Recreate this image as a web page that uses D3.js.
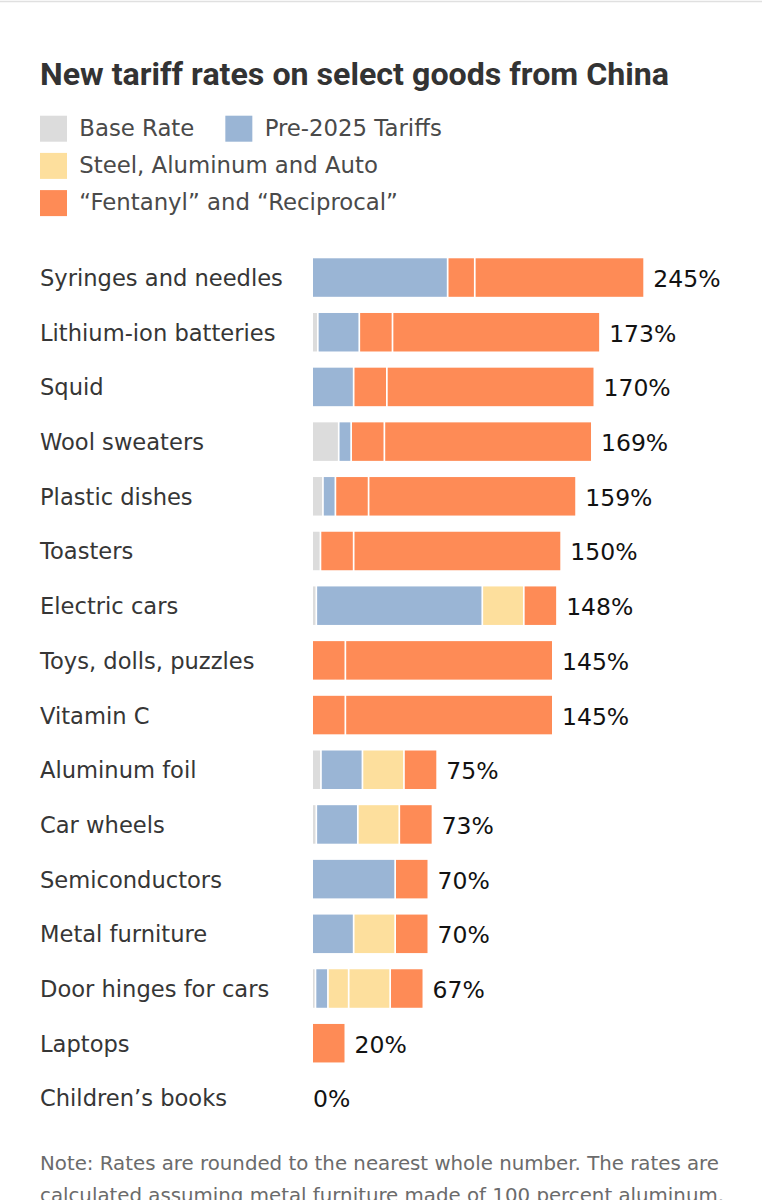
<!DOCTYPE html>
<html>
<head>
<meta charset="utf-8">
<script src="https://cdn.jsdelivr.net/npm/d3@7"></script>
<style>
    body { margin: 0; background: #fff; }
    svg { display: block; }
</style>
</head>
<body>
<div id="chart"></div>
<script>
// 資料
const categories = ['Syringes and needles', 'Lithium-ion batteries', 'Squid', 'Wool sweaters',
    'Plastic dishes', 'Toasters', 'Electric cars', 'Toys, dolls, puzzles', 'Vitamin C',
    'Aluminum foil', 'Car wheels', 'Semiconductors', 'Metal furniture', 'Door hinges for cars',
    'Laptops', 'Children\u2019s books']
const totals      = [245, 173, 170, 169, 159, 150, 148, 145, 145, 75, 73, 70, 70, 67, 20, 0]
const baseRate    = [0, 3.4, 0, 16, 6.5, 5, 2.5, 0, 0, 5.3, 2.5, 0, 0, 2, 0, 0]
const pre2025     = [100, 25, 25, 7.5, 7.5, 0, 100, 0, 0, 25, 25, 50, 25, 7.5, 0, 0]
const steelAlum   = [0, 0, 0, 0, 0, 0, 0, 0, 0, 25, 0, 0, 25, 12.5, 0, 0]
const autoParts   = [0, 0, 0, 0, 0, 0, 25, 0, 0, 0, 25, 0, 0, 25, 0, 0]
const fentanyl    = [20, 20, 20, 20, 20, 20, 20, 20, 20, 20, 20, 20, 20, 20, 20, 0]
const reciprocal  = [125, 125, 125, 125, 125, 125, 0, 125, 125, 0, 0, 0, 0, 0, 0, 0]

const legendKeys  = ['base', 'pre', 'steel', 'fent']
const legendNames = ['Base Rate', 'Pre-2025 Tariffs', 'Steel, Aluminum and Auto', '\u201cFentanyl\u201d and \u201cReciprocal\u201d']
const legendRows  = [['base', 'pre'], ['steel'], ['fent']]

const title = 'New tariff rates on select goods from China'
const noteLines = ['Note: Rates are rounded to the nearest whole number. The rates are',
    'calculated assuming metal furniture made of 100 percent aluminum.']

// 顏色
const color = d3.scaleOrdinal(legendKeys, ['#dcdcdc', '#9ab5d5', '#fddf9d', '#fe8b56'])

// 每列的區段
const pieces = [
    { key: 'base', values: baseRate },
    { key: 'pre', values: pre2025 },
    { key: 'steel', values: steelAlum },
    { key: 'steel', values: autoParts },
    { key: 'fent', values: fentanyl },
    { key: 'fent', values: reciprocal }
]

const rows = categories.map((name, i) => {
    let acc = 0
    const segs = []
    pieces.forEach(p => {
        const v = p.values[i]
        if (v > 0) {
            segs.push({ key: p.key, x0: acc, x1: acc + v })
            acc += v
        }
    })
    return { name, total: totals[i], sum: acc, segs }
})

const svg_width = 762
const svg_height = 1200
const font = "'DejaVu Sans', sans-serif"

const svg = d3.select('#chart').append('svg')
    .attr('width', svg_width).attr('height', svg_height)

// 頂端細線
svg.append('line')
    .attr('x1', 0).attr('x2', svg_width).attr('y1', 1.5).attr('y2', 1.5)
    .attr('stroke', '#e0e0e0').attr('stroke-width', 1.5)

// 標題
svg.append('text')
    .attr('x', 40).attr('y', 84.5)
    .attr('textLength', 629).attr('lengthAdjust', 'spacingAndGlyphs')
    .style('font-family', "'Liberation Sans Narrow', Roboto, sans-serif")
    .style('font-weight', 700).style('font-size', '31px')
    .style('fill', '#333')
    .text(title)

// 圖例
const legend = svg.append('g').attr('class', 'legend')
legendRows.forEach((row, r) => {
    let lx = 40
    const ly = 115.7 + r * 37.2
    row.forEach(key => {
        const g = legend.append('g').attr('transform', `translate(${lx},${ly})`)
        g.append('rect').attr('width', 27).attr('height', 26).style('fill', color(key))
        const t = g.append('text')
            .attr('x', 39.3).attr('y', 20.3)
            .style('font-family', font).style('font-size', '22.8px').style('fill', '#4a4a4a')
            .text(legendNames[legendKeys.indexOf(key)])
        lx += 39.3 + t.node().getComputedTextLength() + 31
    })
})

// 比例尺
const barLeft = 313
const barWidth = 332
const sharedMax = 200
// 超過共用範圍的列會被壓縮到可用寬度內
const xFor = total => d3.scaleLinear([0, Math.max(sharedMax, total)], [barLeft, barLeft + barWidth])

const yScale = d3.scaleBand()
    .domain(categories)
    .range([250.2, 250.2 + 16 * 54.69])
    .paddingInner(0.296)
    .paddingOuter(0.148)

const gap = 1.7

const rowG = svg.append('g').attr('class', 'rows')
    .selectAll('g').data(rows).join('g')
    .attr('transform', d => `translate(0,${yScale(d.name)})`)

// 列標籤
rowG.append('text')
    .attr('x', 40)
    .attr('y', yScale.bandwidth() / 2 + 8.5)
    .style('font-family', font).style('font-size', '22.6px').style('fill', '#363636')
    .text(d => d.name)

// 長條
rowG.each(function (d) {
    const x = xFor(d.sum)
    d3.select(this).selectAll('rect').data(d.segs).join('rect')
        .attr('x', s => x(s.x0))
        .attr('y', 0)
        .attr('width', s => Math.max(0, x(s.x1) - x(s.x0) - gap))
        .attr('height', yScale.bandwidth())
        .style('fill', s => color(s.key))
})

// 數值標籤
rowG.append('text')
    .attr('x', d => d.sum > 0 ? xFor(d.sum)(d.sum) - gap + 10 : barLeft)
    .attr('y', yScale.bandwidth() / 2 + 9.5)
    .style('font-family', font).style('font-size', '23.5px').style('fill', '#121212')
    .text(d => `${d.total}%`)

// 註解
svg.append('g').attr('class', 'note')
    .selectAll('text').data(noteLines).join('text')
    .attr('x', 40)
    .attr('y', (d, i) => 1170 + i * 32)
    .style('font-family', font).style('font-size', '19.8px').style('fill', '#6b6b6b')
    .text(d => d)
</script>
</body>
</html>
